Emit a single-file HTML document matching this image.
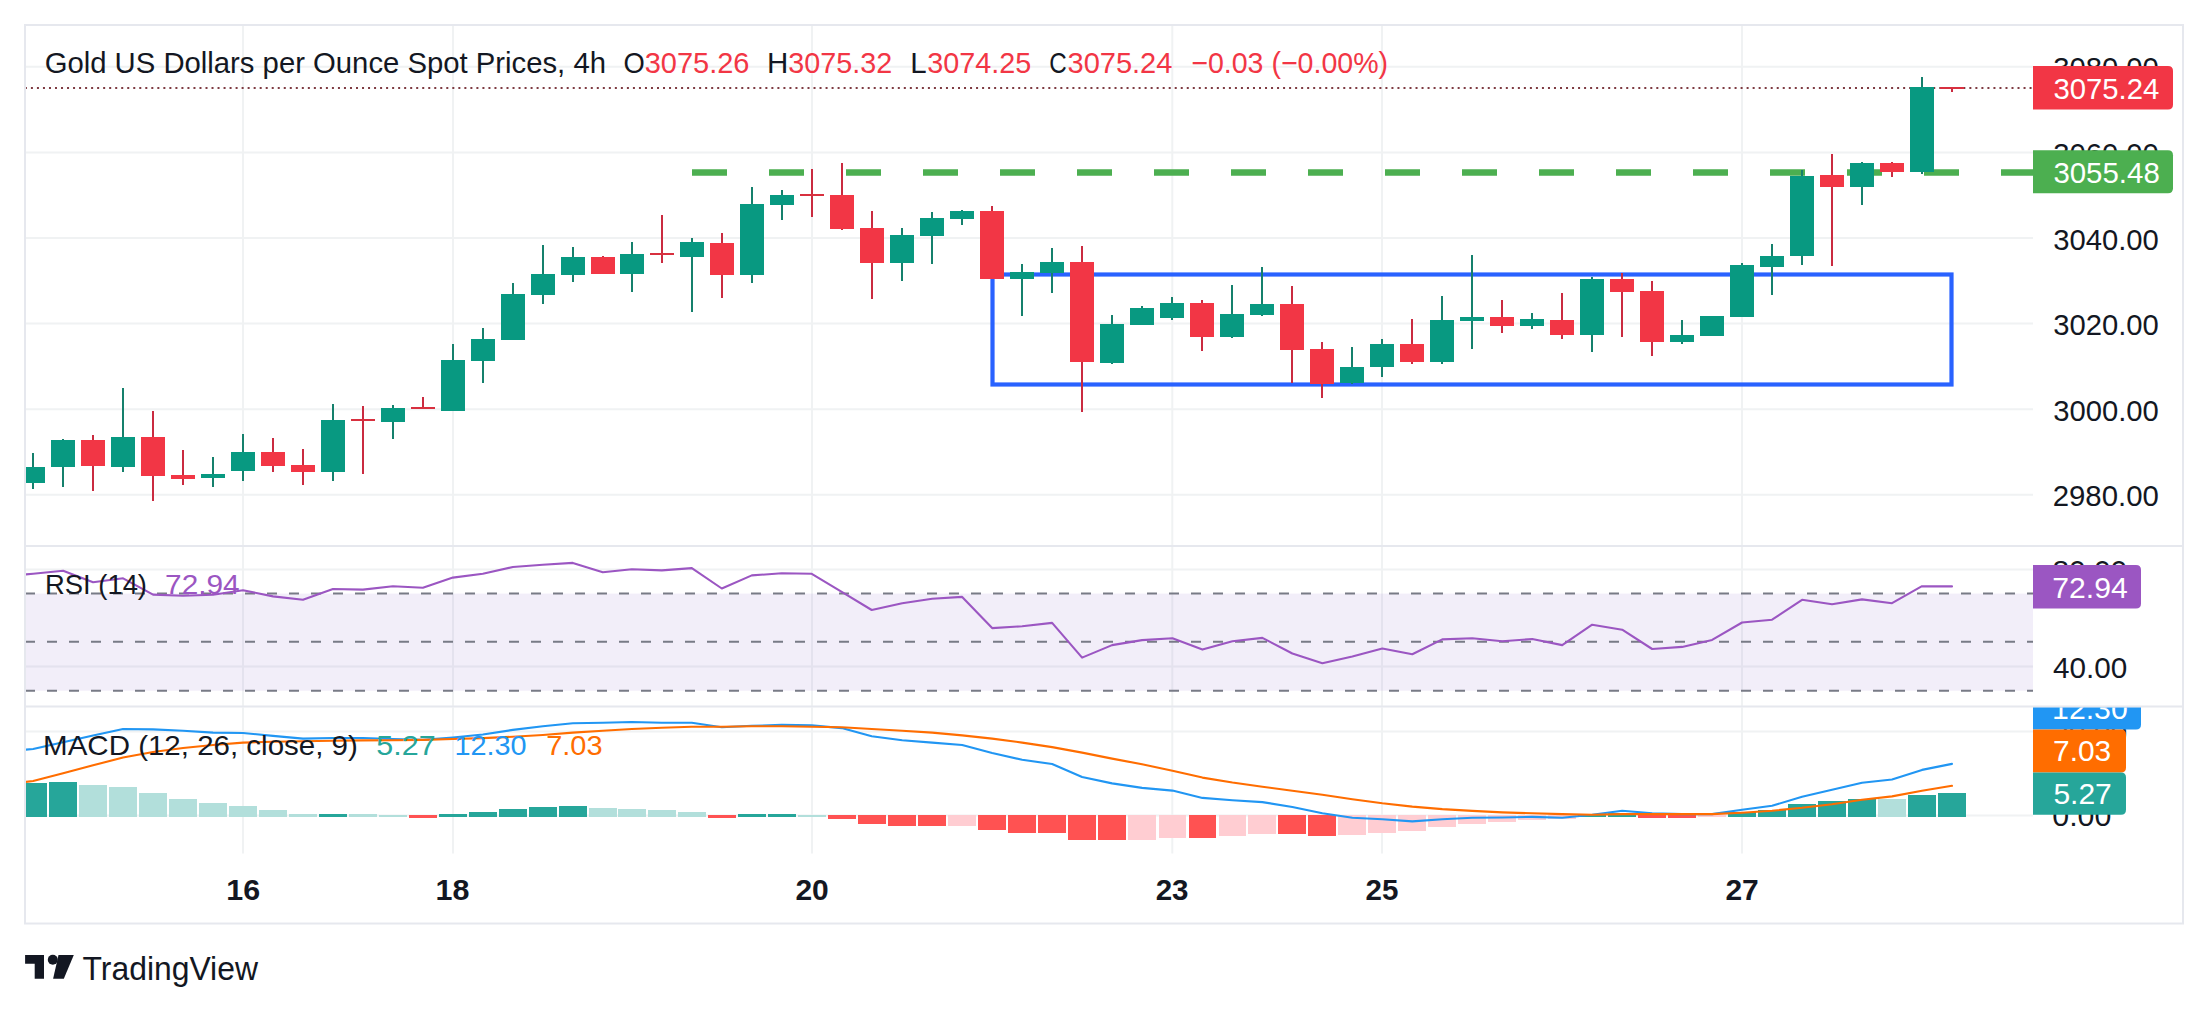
<!DOCTYPE html>
<html><head><meta charset="utf-8"><title>Gold US Dollars per Ounce Spot Prices, 4h</title>
<style>html,body{margin:0;padding:0;background:#fff;}body{width:2208px;height:1012px;overflow:hidden;}svg{display:block;}</style>
</head><body>
<svg width="2208" height="1012" viewBox="0 0 2208 1012" font-family="'Liberation Sans', 'DejaVu Sans', sans-serif">
<rect width="2208" height="1012" fill="#FFFFFF"/>
<defs><clipPath id="cm"><rect x="25" y="26" width="2008" height="519"/></clipPath><clipPath id="cr"><rect x="26" y="547" width="2007" height="159"/></clipPath><clipPath id="cd"><rect x="26" y="707.5" width="2007" height="146"/></clipPath><clipPath id="ca"><rect x="2033" y="26" width="149" height="519.5"/></clipPath><clipPath id="car"><rect x="2033" y="547" width="149" height="159"/></clipPath><clipPath id="cad"><rect x="2033" y="707.5" width="149" height="214"/></clipPath></defs>
<path d="M26 66.8H2033M26 152.4H2033M26 238.0H2033M26 323.6H2033M26 409.2H2033M26 494.8H2033M26 569.6H2033M26 666.4H2033M26 731.5H2033M26 815.6H2033M243.0 26V545M243.0 547V706M243.0 707.5V853.5M453.0 26V545M453.0 547V706M453.0 707.5V853.5M812.0 26V545M812.0 547V706M812.0 707.5V853.5M1172.3 26V545M1172.3 547V706M1172.3 707.5V853.5M1382.0 26V545M1382.0 547V706M1382.0 707.5V853.5M1742.0 26V545M1742.0 547V706M1742.0 707.5V853.5" stroke="#F0F2F3" stroke-width="2" fill="none"/>
<rect x="25" y="593.6" width="2008" height="97.1" fill="rgba(126,87,194,0.1)"/>
<path d="M25 593.6H2033M25 641.8H2033M25 690.7H2033" stroke="#787B86" stroke-width="2" stroke-dasharray="10 12" fill="none"/>
<g clip-path="url(#cm)">
<path d="M24.9 88H2033" stroke="#7E3B42" stroke-width="2" stroke-dasharray="2 4.02" fill="none"/>
<path d="M692 172.45H2033" stroke="#4CAF50" stroke-width="6.6" stroke-dasharray="35 42" fill="none"/>
<rect x="992.5" y="274.5" width="959" height="110" fill="none" stroke="#2962FF" stroke-width="4.2"/>
<g shape-rendering="crispEdges">
<rect x="32.13" y="453.0" width="2" height="35.7" fill="#15806C"/>
<rect x="21.13" y="467.2" width="24" height="15.5" fill="#089981"/>
<rect x="62.11" y="439.2" width="2" height="47.7" fill="#15806C"/>
<rect x="51.11" y="440.1" width="24" height="26.5" fill="#089981"/>
<rect x="92.09" y="435.0" width="2" height="55.8" fill="#CA2B40"/>
<rect x="81.09" y="440.1" width="24" height="25.5" fill="#F23645"/>
<rect x="122.08" y="388.0" width="2" height="84.0" fill="#15806C"/>
<rect x="111.08" y="437.1" width="24" height="29.5" fill="#089981"/>
<rect x="152.06" y="411.1" width="2" height="89.6" fill="#CA2B40"/>
<rect x="141.06" y="437.1" width="24" height="38.7" fill="#F23645"/>
<rect x="182.04" y="450.0" width="2" height="34.8" fill="#CA2B40"/>
<rect x="171.04" y="475.1" width="24" height="3.8" fill="#F23645"/>
<rect x="212.02" y="456.9" width="2" height="30.0" fill="#15806C"/>
<rect x="201.02" y="474.0" width="24" height="3.8" fill="#089981"/>
<rect x="242.00" y="434.0" width="2" height="46.7" fill="#15806C"/>
<rect x="231.00" y="452.0" width="24" height="18.7" fill="#089981"/>
<rect x="271.99" y="438.0" width="2" height="33.7" fill="#CA2B40"/>
<rect x="260.99" y="452.3" width="24" height="13.4" fill="#F23645"/>
<rect x="301.97" y="449.1" width="2" height="35.6" fill="#CA2B40"/>
<rect x="290.97" y="465.2" width="24" height="6.3" fill="#F23645"/>
<rect x="331.95" y="404.0" width="2" height="76.7" fill="#15806C"/>
<rect x="320.95" y="420.2" width="24" height="51.3" fill="#089981"/>
<rect x="361.93" y="406.1" width="2" height="67.8" fill="#CA2B40"/>
<rect x="350.93" y="419.0" width="24" height="1.8" fill="#D8303F"/>
<rect x="391.91" y="404.8" width="2" height="34.0" fill="#15806C"/>
<rect x="380.91" y="408.3" width="24" height="13.4" fill="#089981"/>
<rect x="421.90" y="396.9" width="2" height="11.9" fill="#CA2B40"/>
<rect x="410.90" y="407.2" width="24" height="1.8" fill="#D8303F"/>
<rect x="451.88" y="344.0" width="2" height="66.7" fill="#15806C"/>
<rect x="440.88" y="360.1" width="24" height="50.6" fill="#089981"/>
<rect x="481.86" y="328.1" width="2" height="54.6" fill="#15806C"/>
<rect x="470.86" y="339.3" width="24" height="21.3" fill="#089981"/>
<rect x="511.84" y="283.1" width="2" height="56.6" fill="#15806C"/>
<rect x="500.84" y="294.3" width="24" height="45.4" fill="#089981"/>
<rect x="541.82" y="245.0" width="2" height="58.7" fill="#15806C"/>
<rect x="530.82" y="274.2" width="24" height="20.4" fill="#089981"/>
<rect x="571.81" y="247.1" width="2" height="34.7" fill="#15806C"/>
<rect x="560.81" y="257.3" width="24" height="17.4" fill="#089981"/>
<rect x="601.79" y="255.5" width="2" height="18.0" fill="#CA2B40"/>
<rect x="590.79" y="257.3" width="24" height="16.2" fill="#F23645"/>
<rect x="630.87" y="242.2" width="2" height="49.8" fill="#15806C"/>
<rect x="619.87" y="254.3" width="24" height="19.2" fill="#089981"/>
<rect x="660.85" y="215.1" width="2" height="47.5" fill="#CA2B40"/>
<rect x="649.85" y="253.0" width="24" height="1.8" fill="#D8303F"/>
<rect x="690.83" y="237.9" width="2" height="73.8" fill="#15806C"/>
<rect x="679.83" y="242.2" width="24" height="14.7" fill="#089981"/>
<rect x="720.82" y="233.0" width="2" height="64.8" fill="#CA2B40"/>
<rect x="709.82" y="243.3" width="24" height="31.3" fill="#F23645"/>
<rect x="750.80" y="187.2" width="2" height="95.6" fill="#15806C"/>
<rect x="739.80" y="204.1" width="24" height="70.5" fill="#089981"/>
<rect x="780.78" y="190.0" width="2" height="29.6" fill="#15806C"/>
<rect x="769.78" y="195.2" width="24" height="9.5" fill="#089981"/>
<rect x="810.76" y="169.0" width="2" height="47.7" fill="#CA2B40"/>
<rect x="799.76" y="194.3" width="24" height="1.8" fill="#D8303F"/>
<rect x="840.74" y="163.1" width="2" height="66.7" fill="#CA2B40"/>
<rect x="829.74" y="195.2" width="24" height="33.4" fill="#F23645"/>
<rect x="870.73" y="211.2" width="2" height="87.4" fill="#CA2B40"/>
<rect x="859.73" y="228.1" width="24" height="34.6" fill="#F23645"/>
<rect x="901.21" y="228.1" width="2" height="52.7" fill="#15806C"/>
<rect x="890.21" y="235.1" width="24" height="27.6" fill="#089981"/>
<rect x="931.19" y="212.0" width="2" height="51.5" fill="#15806C"/>
<rect x="920.19" y="218.3" width="24" height="17.4" fill="#089981"/>
<rect x="961.17" y="210.2" width="2" height="14.6" fill="#15806C"/>
<rect x="950.17" y="211.1" width="24" height="7.4" fill="#089981"/>
<rect x="991.15" y="205.9" width="2" height="72.8" fill="#CA2B40"/>
<rect x="980.15" y="211.1" width="24" height="67.6" fill="#F23645"/>
<rect x="1021.14" y="264.1" width="2" height="51.6" fill="#15806C"/>
<rect x="1010.14" y="272.2" width="24" height="6.5" fill="#089981"/>
<rect x="1051.12" y="247.8" width="2" height="45.0" fill="#15806C"/>
<rect x="1040.12" y="262.0" width="24" height="10.6" fill="#089981"/>
<rect x="1081.10" y="246.1" width="2" height="165.6" fill="#CA2B40"/>
<rect x="1070.10" y="262.0" width="24" height="100.0" fill="#F23645"/>
<rect x="1111.08" y="315.1" width="2" height="48.7" fill="#15806C"/>
<rect x="1100.08" y="324.0" width="24" height="38.6" fill="#089981"/>
<rect x="1141.06" y="306.2" width="2" height="18.6" fill="#15806C"/>
<rect x="1130.06" y="308.2" width="24" height="16.6" fill="#089981"/>
<rect x="1171.45" y="297.1" width="2" height="22.9" fill="#15806C"/>
<rect x="1160.45" y="303.3" width="24" height="14.5" fill="#089981"/>
<rect x="1201.43" y="300.0" width="2" height="50.7" fill="#CA2B40"/>
<rect x="1190.43" y="303.3" width="24" height="33.5" fill="#F23645"/>
<rect x="1231.41" y="285.2" width="2" height="52.6" fill="#15806C"/>
<rect x="1220.41" y="314.4" width="24" height="22.4" fill="#089981"/>
<rect x="1261.39" y="267.1" width="2" height="48.8" fill="#15806C"/>
<rect x="1250.39" y="304.2" width="24" height="10.6" fill="#089981"/>
<rect x="1291.37" y="286.2" width="2" height="96.8" fill="#CA2B40"/>
<rect x="1280.37" y="304.2" width="24" height="45.5" fill="#F23645"/>
<rect x="1321.36" y="342.0" width="2" height="55.9" fill="#CA2B40"/>
<rect x="1310.36" y="349.2" width="24" height="34.6" fill="#F23645"/>
<rect x="1351.34" y="347.1" width="2" height="36.9" fill="#15806C"/>
<rect x="1340.34" y="367.1" width="24" height="16.3" fill="#089981"/>
<rect x="1381.32" y="338.9" width="2" height="37.8" fill="#15806C"/>
<rect x="1370.32" y="344.1" width="24" height="22.6" fill="#089981"/>
<rect x="1411.30" y="318.9" width="2" height="44.9" fill="#CA2B40"/>
<rect x="1400.30" y="344.1" width="24" height="17.5" fill="#F23645"/>
<rect x="1441.28" y="296.2" width="2" height="67.6" fill="#15806C"/>
<rect x="1430.28" y="320.1" width="24" height="41.5" fill="#089981"/>
<rect x="1471.27" y="255.2" width="2" height="93.4" fill="#15806C"/>
<rect x="1460.27" y="317.2" width="24" height="3.5" fill="#089981"/>
<rect x="1501.25" y="300.4" width="2" height="32.3" fill="#CA2B40"/>
<rect x="1490.25" y="317.2" width="24" height="8.4" fill="#F23645"/>
<rect x="1531.23" y="313.3" width="2" height="15.6" fill="#15806C"/>
<rect x="1520.23" y="319.2" width="24" height="6.4" fill="#089981"/>
<rect x="1561.21" y="293.3" width="2" height="45.5" fill="#CA2B40"/>
<rect x="1550.21" y="320.1" width="24" height="14.7" fill="#F23645"/>
<rect x="1591.19" y="276.6" width="2" height="75.1" fill="#15806C"/>
<rect x="1580.19" y="279.0" width="24" height="55.7" fill="#089981"/>
<rect x="1621.18" y="272.7" width="2" height="64.0" fill="#CA2B40"/>
<rect x="1610.18" y="279.0" width="24" height="12.7" fill="#F23645"/>
<rect x="1651.16" y="280.9" width="2" height="75.1" fill="#CA2B40"/>
<rect x="1640.16" y="290.9" width="24" height="50.9" fill="#F23645"/>
<rect x="1681.14" y="320.1" width="2" height="23.7" fill="#15806C"/>
<rect x="1670.14" y="335.1" width="24" height="6.7" fill="#089981"/>
<rect x="1711.12" y="316.2" width="2" height="19.4" fill="#15806C"/>
<rect x="1700.12" y="316.2" width="24" height="19.4" fill="#089981"/>
<rect x="1741.10" y="263.2" width="2" height="53.4" fill="#15806C"/>
<rect x="1730.10" y="265.1" width="24" height="51.5" fill="#089981"/>
<rect x="1771.09" y="244.2" width="2" height="50.6" fill="#15806C"/>
<rect x="1760.09" y="256.1" width="24" height="10.7" fill="#089981"/>
<rect x="1801.07" y="170.0" width="2" height="94.6" fill="#15806C"/>
<rect x="1790.07" y="175.9" width="24" height="80.0" fill="#089981"/>
<rect x="1831.05" y="153.7" width="2" height="112.0" fill="#CA2B40"/>
<rect x="1820.05" y="175.0" width="24" height="11.7" fill="#F23645"/>
<rect x="1861.03" y="162.4" width="2" height="42.4" fill="#15806C"/>
<rect x="1850.03" y="163.0" width="24" height="23.7" fill="#089981"/>
<rect x="1891.01" y="162.4" width="2" height="14.6" fill="#CA2B40"/>
<rect x="1880.01" y="163.0" width="24" height="8.7" fill="#F23645"/>
<rect x="1921.00" y="77.2" width="2" height="96.7" fill="#15806C"/>
<rect x="1910.00" y="87.4" width="24" height="84.1" fill="#089981"/>
<rect x="1950.98" y="87.0" width="2" height="4.7" fill="#CA2B40"/>
<rect x="1939.98" y="87.0" width="24" height="1.8" fill="#D8303F"/>
</g>
</g>
<g clip-path="url(#cr)"><polyline points="3.15,576.5 33.13,573.7 63.11,570.8 93.09,582.2 123.08,578.3 153.06,594.6 183.04,595.7 213.02,594.8 243.00,590.3 272.99,596.4 302.97,599.8 332.95,589 362.93,589.6 392.91,586.2 422.90,587.8 452.88,577.6 482.86,573.8 512.84,567 542.82,564.7 572.81,562.9 602.79,572.2 631.87,569.2 661.85,570.4 691.83,568.1 721.82,588.5 751.80,575.4 781.78,573.3 811.76,573.8 841.74,591.9 871.73,610 902.21,603.2 932.19,598.7 962.17,596.9 992.15,628.1 1022.14,626.3 1052.12,622.9 1082.10,657.6 1112.08,645.1 1142.06,640.1 1172.45,638.3 1202.43,649.6 1232.41,641.3 1262.39,637.9 1292.37,653.5 1322.36,663.2 1352.34,656.4 1382.32,648.5 1412.30,654.2 1442.28,639.4 1472.27,638.3 1502.25,641.3 1532.23,639 1562.21,645.1 1592.19,624.7 1622.18,629.7 1652.16,649 1682.14,646.9 1712.12,639.9 1742.10,622.5 1772.09,619.7 1802.07,599.8 1832.05,604.3 1862.03,599.4 1892.01,603.2 1922.00,586.2 1951.98,586.4" fill="none" stroke="#9B56C2" stroke-width="2.1" stroke-linejoin="round" stroke-linecap="round"/></g>
<g clip-path="url(#cd)">
<g shape-rendering="crispEdges">
<rect x="19.23" y="783.0" width="27.8" height="33.6" fill="#26A69A"/>
<rect x="49.21" y="781.9" width="27.8" height="34.7" fill="#26A69A"/>
<rect x="79.19" y="784.8" width="27.8" height="31.8" fill="#B2DFDB"/>
<rect x="109.18" y="787.0" width="27.8" height="29.6" fill="#B2DFDB"/>
<rect x="139.16" y="793.0" width="27.8" height="23.6" fill="#B2DFDB"/>
<rect x="169.14" y="799.0" width="27.8" height="17.6" fill="#B2DFDB"/>
<rect x="199.12" y="802.9" width="27.8" height="13.7" fill="#B2DFDB"/>
<rect x="229.10" y="805.8" width="27.8" height="10.8" fill="#B2DFDB"/>
<rect x="259.09" y="809.8" width="27.8" height="6.8" fill="#B2DFDB"/>
<rect x="289.07" y="813.8" width="27.8" height="2.8" fill="#B2DFDB"/>
<rect x="319.05" y="813.8" width="27.8" height="2.8" fill="#26A69A"/>
<rect x="349.03" y="813.8" width="27.8" height="2.8" fill="#B2DFDB"/>
<rect x="379.01" y="814.7" width="27.8" height="1.9" fill="#B2DFDB"/>
<rect x="409.00" y="815.4" width="27.8" height="2.2" fill="#FF5252"/>
<rect x="438.98" y="813.8" width="27.8" height="2.8" fill="#26A69A"/>
<rect x="468.96" y="812.0" width="27.8" height="4.6" fill="#26A69A"/>
<rect x="498.94" y="808.9" width="27.8" height="7.7" fill="#26A69A"/>
<rect x="528.92" y="807.1" width="27.8" height="9.5" fill="#26A69A"/>
<rect x="558.91" y="806.0" width="27.8" height="10.6" fill="#26A69A"/>
<rect x="588.89" y="808.0" width="27.8" height="8.6" fill="#B2DFDB"/>
<rect x="617.97" y="808.9" width="27.8" height="7.7" fill="#B2DFDB"/>
<rect x="647.95" y="809.8" width="27.8" height="6.8" fill="#B2DFDB"/>
<rect x="677.93" y="812.0" width="27.8" height="4.6" fill="#B2DFDB"/>
<rect x="707.92" y="815.4" width="27.8" height="2.4" fill="#FF5252"/>
<rect x="737.90" y="813.8" width="27.8" height="2.8" fill="#26A69A"/>
<rect x="767.88" y="814.2" width="27.8" height="2.4" fill="#26A69A"/>
<rect x="797.86" y="815.2" width="27.8" height="1.5" fill="#B2DFDB"/>
<rect x="827.84" y="815.4" width="27.8" height="3.3" fill="#FF5252"/>
<rect x="857.83" y="815.4" width="27.8" height="8.4" fill="#FF5252"/>
<rect x="888.31" y="815.4" width="27.8" height="10.2" fill="#FF5252"/>
<rect x="918.29" y="815.4" width="27.8" height="10.2" fill="#FF5252"/>
<rect x="948.27" y="815.4" width="27.8" height="10.2" fill="#FFCDD2"/>
<rect x="978.25" y="815.4" width="27.8" height="14.2" fill="#FF5252"/>
<rect x="1008.24" y="815.4" width="27.8" height="17.4" fill="#FF5252"/>
<rect x="1038.22" y="815.4" width="27.8" height="17.4" fill="#FF5252"/>
<rect x="1068.20" y="815.4" width="27.8" height="24.3" fill="#FF5252"/>
<rect x="1098.18" y="815.4" width="27.8" height="25.0" fill="#FF5252"/>
<rect x="1128.16" y="815.4" width="27.8" height="24.3" fill="#FFCDD2"/>
<rect x="1158.55" y="815.4" width="27.8" height="22.4" fill="#FFCDD2"/>
<rect x="1188.53" y="815.4" width="27.8" height="22.4" fill="#FF5252"/>
<rect x="1218.51" y="815.4" width="27.8" height="20.2" fill="#FFCDD2"/>
<rect x="1248.49" y="815.4" width="27.8" height="18.4" fill="#FFCDD2"/>
<rect x="1278.47" y="815.4" width="27.8" height="18.4" fill="#FF5252"/>
<rect x="1308.46" y="815.4" width="27.8" height="20.2" fill="#FF5252"/>
<rect x="1338.44" y="815.4" width="27.8" height="19.3" fill="#FFCDD2"/>
<rect x="1368.42" y="815.4" width="27.8" height="17.3" fill="#FFCDD2"/>
<rect x="1398.40" y="815.4" width="27.8" height="15.3" fill="#FFCDD2"/>
<rect x="1428.38" y="815.4" width="27.8" height="11.5" fill="#FFCDD2"/>
<rect x="1458.37" y="815.4" width="27.8" height="8.4" fill="#FFCDD2"/>
<rect x="1488.35" y="815.4" width="27.8" height="6.4" fill="#FFCDD2"/>
<rect x="1518.33" y="815.4" width="27.8" height="4.2" fill="#FFCDD2"/>
<rect x="1548.31" y="815.4" width="27.8" height="3.9" fill="#FFCDD2"/>
<rect x="1578.29" y="813.7" width="27.8" height="2.9" fill="#26A69A"/>
<rect x="1608.28" y="812.7" width="27.8" height="3.9" fill="#26A69A"/>
<rect x="1638.26" y="815.4" width="27.8" height="2.5" fill="#FF5252"/>
<rect x="1668.24" y="815.4" width="27.8" height="2.5" fill="#FF5252"/>
<rect x="1698.22" y="815.4" width="27.8" height="1.8" fill="#FFCDD2"/>
<rect x="1728.20" y="812.3" width="27.8" height="4.3" fill="#26A69A"/>
<rect x="1758.19" y="810.1" width="27.8" height="6.5" fill="#26A69A"/>
<rect x="1788.17" y="804.2" width="27.8" height="12.4" fill="#26A69A"/>
<rect x="1818.15" y="801.0" width="27.8" height="15.6" fill="#26A69A"/>
<rect x="1848.13" y="799.2" width="27.8" height="17.4" fill="#26A69A"/>
<rect x="1878.11" y="799.2" width="27.8" height="17.4" fill="#B2DFDB"/>
<rect x="1908.10" y="795.0" width="27.8" height="21.6" fill="#26A69A"/>
<rect x="1938.08" y="793.0" width="27.8" height="23.6" fill="#26A69A"/>
</g>
<polyline points="3.15,751.5 33.13,749 63.11,742.3 93.09,735.5 123.08,729 153.06,729.4 183.04,730.8 213.02,732.6 243.00,733 272.99,735.9 302.97,738.6 332.95,738 362.93,738 392.91,739 422.90,739.9 452.88,737.5 482.86,734.5 512.84,729.9 542.82,726.3 572.81,723.2 602.79,722.7 631.87,722 661.85,722.7 691.83,722.7 721.82,727.2 751.80,725.8 781.78,724.9 811.76,725.4 841.74,728.1 871.73,736.3 902.21,740.3 932.19,742.6 962.17,745 992.15,753.1 1022.14,759.8 1052.12,764 1082.10,777 1112.08,783.4 1142.06,787.9 1172.45,790.6 1202.43,797.9 1232.41,800.3 1262.39,802.1 1292.37,807 1322.36,813.3 1352.34,817.8 1382.32,819.3 1412.30,821.4 1442.28,819.3 1472.27,817.8 1502.25,817.5 1532.23,816.9 1562.21,817.7 1592.19,814.7 1622.18,810.7 1652.16,813.3 1682.14,814.1 1712.12,814.1 1742.10,809.7 1772.09,805.8 1802.07,796.8 1832.05,789.8 1862.03,782.8 1892.01,779.5 1922.00,769.9 1951.98,763.9" fill="none" stroke="#2196F3" stroke-width="2.1" stroke-linejoin="round" stroke-linecap="round"/>
<polyline points="3.15,784.5 33.13,781 63.11,773.2 93.09,765.3 123.08,757.5 153.06,752 183.04,748 213.02,745 243.00,742.6 272.99,741.7 302.97,741.2 332.95,740.8 362.93,740.4 392.91,740.3 422.90,739.9 452.88,739 482.86,738.1 512.84,736.8 542.82,735 572.81,732.6 602.79,730.8 631.87,729 661.85,727.8 691.83,726.7 721.82,726.7 751.80,726.3 781.78,726.3 811.76,726.7 841.74,727.2 871.73,729 902.21,730.8 932.19,732.6 962.17,735.4 992.15,738.6 1022.14,742.6 1052.12,747.1 1082.10,752.6 1112.08,758.6 1142.06,764.3 1172.45,770.7 1202.43,777.6 1232.41,782.5 1262.39,786.7 1292.37,790.7 1322.36,794.8 1352.34,799.2 1382.32,803.3 1412.30,806.6 1442.28,809.1 1472.27,810.9 1502.25,812.4 1532.23,813.3 1562.21,814.1 1592.19,814.7 1622.18,814.1 1652.16,814.1 1682.14,814.1 1712.12,814.1 1742.10,812.7 1772.09,810.7 1802.07,807.8 1832.05,804.2 1862.03,799.8 1892.01,796.4 1922.00,790.8 1951.98,785.8" fill="none" stroke="#FF6D00" stroke-width="2.1" stroke-linejoin="round" stroke-linecap="round"/>
</g>
<path d="M25 546H2183M25 706.6H2183" stroke="#E6E8EE" stroke-width="2" fill="none"/>
<rect x="25" y="25" width="2158" height="898.5" fill="none" stroke="#E6E8EE" stroke-width="2"/>
<text x="44.63" y="72.70" font-size="29.5" textLength="561.32" lengthAdjust="spacingAndGlyphs" fill="#131722">Gold US Dollars per Ounce Spot Prices, 4h</text>
<text x="623.62" y="72.70" font-size="29.5" textLength="21.27" lengthAdjust="spacingAndGlyphs" fill="#131722">O</text>
<text x="644.69" y="72.70" font-size="29.5" textLength="104.78" lengthAdjust="spacingAndGlyphs" fill="#F23645">3075.26</text>
<text x="767.00" y="72.70" font-size="29.5" textLength="21.30" lengthAdjust="spacingAndGlyphs" fill="#131722">H</text>
<text x="788.30" y="72.70" font-size="29.5" textLength="103.86" lengthAdjust="spacingAndGlyphs" fill="#F23645">3075.32</text>
<text x="910.20" y="72.70" font-size="29.5" textLength="16.41" lengthAdjust="spacingAndGlyphs" fill="#131722">L</text>
<text x="927.20" y="72.70" font-size="29.5" textLength="103.96" lengthAdjust="spacingAndGlyphs" fill="#F23645">3074.25</text>
<text x="1049.37" y="72.70" font-size="29.5" textLength="17.47" lengthAdjust="spacingAndGlyphs" fill="#131722">C</text>
<text x="1067.49" y="72.70" font-size="29.5" textLength="104.93" lengthAdjust="spacingAndGlyphs" fill="#F23645">3075.24</text>
<text x="1191.26" y="72.70" font-size="29.5" textLength="196.82" lengthAdjust="spacingAndGlyphs" fill="#F23645">−0.03 (−0.00%)</text>
<text x="2053.19" y="78.40" font-size="29.5" textLength="105.64" lengthAdjust="spacingAndGlyphs" fill="#131722">3080.00</text>
<text x="2053.19" y="164.00" font-size="29.5" textLength="105.64" lengthAdjust="spacingAndGlyphs" fill="#131722">3060.00</text>
<text x="2053.19" y="249.60" font-size="29.5" textLength="105.64" lengthAdjust="spacingAndGlyphs" fill="#131722">3040.00</text>
<text x="2053.19" y="335.20" font-size="29.5" textLength="105.64" lengthAdjust="spacingAndGlyphs" fill="#131722">3020.00</text>
<text x="2053.19" y="420.80" font-size="29.5" textLength="105.64" lengthAdjust="spacingAndGlyphs" fill="#131722">3000.00</text>
<text x="2052.72" y="506.40" font-size="29.5" textLength="106.11" lengthAdjust="spacingAndGlyphs" fill="#131722">2980.00</text>
<text x="2052.47" y="581.00" font-size="29.5" textLength="74.78" lengthAdjust="spacingAndGlyphs" fill="#131722">80.00</text>
<text x="2052.94" y="678.40" font-size="29.5" textLength="74.30" lengthAdjust="spacingAndGlyphs" fill="#131722">40.00</text>
<text x="2052.25" y="826.10" font-size="29.5" textLength="59.11" lengthAdjust="spacingAndGlyphs" fill="#131722">0.00</text>
<text x="2051.99" y="742.60" font-size="29.5" textLength="75.26" lengthAdjust="spacingAndGlyphs" fill="#131722">20.00</text>
<text x="45.06" y="594.40" font-size="28.5" textLength="101.96" lengthAdjust="spacingAndGlyphs" fill="#131722">RSI (14)</text>
<text x="165.10" y="594.40" font-size="28.5" textLength="74.54" lengthAdjust="spacingAndGlyphs" fill="#9B56C2">72.94</text>
<text x="43.10" y="755.30" font-size="28.5" textLength="314.73" lengthAdjust="spacingAndGlyphs" fill="#131722">MACD (12, 26, close, 9)</text>
<text x="376.35" y="755.30" font-size="28.5" textLength="59.29" lengthAdjust="spacingAndGlyphs" fill="#26A69A">5.27</text>
<text x="454.40" y="755.30" font-size="28.5" textLength="72.22" lengthAdjust="spacingAndGlyphs" fill="#2196F3">12.30</text>
<text x="546.24" y="755.30" font-size="28.5" textLength="56.33" lengthAdjust="spacingAndGlyphs" fill="#FF6D00">7.03</text>
<text x="226.30" y="900.20" font-size="29.0" textLength="33.86" lengthAdjust="spacingAndGlyphs" fill="#131722" font-weight="bold">16</text>
<text x="435.50" y="900.20" font-size="29.0" textLength="33.86" lengthAdjust="spacingAndGlyphs" fill="#131722" font-weight="bold">18</text>
<text x="795.46" y="900.20" font-size="29.0" textLength="33.35" lengthAdjust="spacingAndGlyphs" fill="#131722" font-weight="bold">20</text>
<text x="1155.68" y="900.20" font-size="29.0" textLength="32.86" lengthAdjust="spacingAndGlyphs" fill="#131722" font-weight="bold">23</text>
<text x="1365.48" y="900.20" font-size="29.0" textLength="32.86" lengthAdjust="spacingAndGlyphs" fill="#131722" font-weight="bold">25</text>
<text x="1725.46" y="900.20" font-size="29.0" textLength="33.35" lengthAdjust="spacingAndGlyphs" fill="#131722" font-weight="bold">27</text>
<path d="M2033 66.1H2168Q2173 66.1 2173 71.1V104.5Q2173 109.5 2168 109.5H2033Z" fill="#F23645"/>
<path d="M2033 150.2H2168Q2173 150.2 2173 155.2V188.3Q2173 193.3 2168 193.3H2033Z" fill="#4CAF50"/>
<path d="M2033 565.1H2136Q2141 565.1 2141 570.1V603.5Q2141 608.5 2136 608.5H2033Z" fill="#9B56C2"/>
<g clip-path="url(#cad)">
<path d="M2033 700H2136Q2141 700 2141 705V724.4Q2141 729.4 2136 729.4H2033Z" fill="#2196F3"/>
<path d="M2033 729.4H2121Q2126 729.4 2126 734.4V767.5Q2126 772.5 2121 772.5H2033Z" fill="#FF6D00"/>
<path d="M2033 772.5H2121Q2126 772.5 2126 777.5V809.8Q2126 814.8 2121 814.8H2033Z" fill="#26A69A"/>
</g>
<text x="2053.38" y="99.30" font-size="29.5" textLength="105.95" lengthAdjust="spacingAndGlyphs" fill="#FFFFFF">3075.24</text>
<text x="2053.38" y="183.20" font-size="29.5" textLength="106.41" lengthAdjust="spacingAndGlyphs" fill="#FFFFFF">3055.48</text>
<text x="2052.39" y="597.60" font-size="29.5" textLength="75.36" lengthAdjust="spacingAndGlyphs" fill="#FFFFFF">72.94</text>
<g clip-path="url(#cad)"><text x="2052.11" y="718.70" font-size="29.5" textLength="75.64" lengthAdjust="spacingAndGlyphs" fill="#FFFFFF">12.30</text></g>
<text x="2053.00" y="761.40" font-size="29.5" textLength="58.21" lengthAdjust="spacingAndGlyphs" fill="#FFFFFF">7.03</text>
<text x="2053.46" y="804.10" font-size="29.5" textLength="58.35" lengthAdjust="spacingAndGlyphs" fill="#FFFFFF">5.27</text>
<g fill="#131722"><path d="M25.1 955H44V978.7H34.7V963.7H25.1Z"/><circle cx="52.8" cy="959.8" r="5"/><path d="M58.5 955H73.8L63.8 978.7H53.1Z"/></g>
<text x="82.60" y="979.50" font-size="33.5" textLength="175.31" lengthAdjust="spacingAndGlyphs" fill="#131722">TradingView</text>
</svg>
</body></html>
